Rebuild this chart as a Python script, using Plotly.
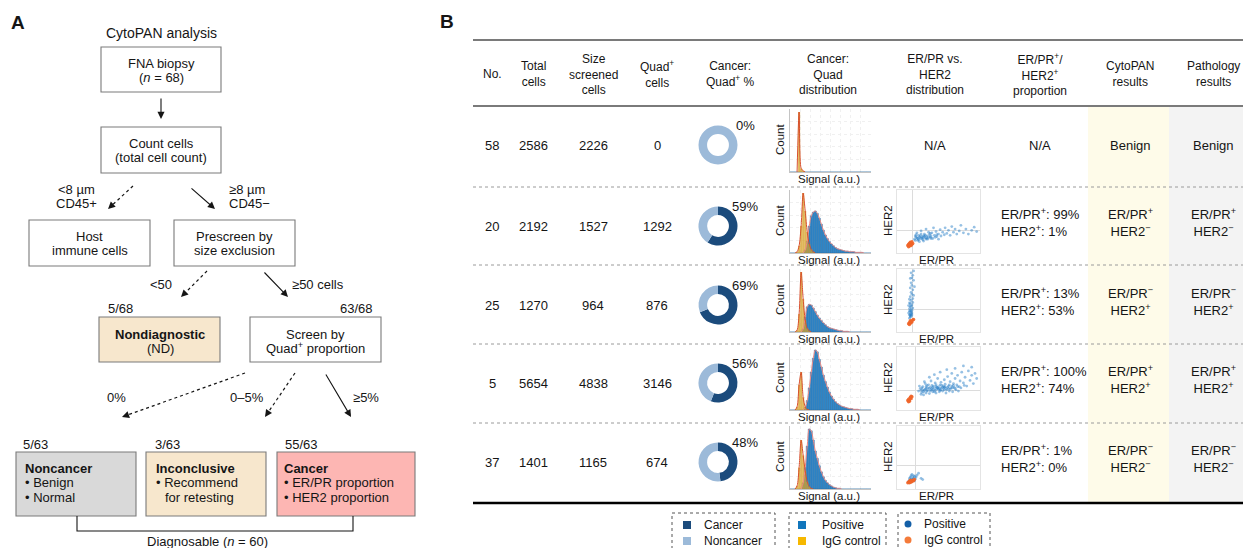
import plotly.graph_objects as go

W, H = 1243, 548
OFF = 0  # body margin is removed by the post script, so the figure fills the window exactly

# ---------------- Panel B: table values ----------------
case_no = [58, 20, 25, 5, 37]
total_cells = [2586, 2192, 1270, 5654, 1401]
size_screened_cells = [2226, 1527, 964, 4838, 1165]
quad_pos_cells = [0, 1292, 876, 3146, 674]
cancer_quad_pct = [0, 59, 69, 56, 48]
erpr_pos_pct = [None, 99, 13, 100, 1]
her2_pos_pct = [None, 1, 53, 74, 0]
cytopan_erpr = [None, "+", "−", "+", "−"]
cytopan_her2 = [None, "−", "+", "+", "−"]
pathology_erpr = [None, "+", "−", "+", "−"]
pathology_her2 = [None, "−", "+", "+", "−"]

# ---------------- Quad signal histograms (bin centres, counts) ----------------
signal_bins = [0.0125 + 0.025 * i for i in range(40)]
hist_pos = {
    58: [0, 0, 0, 0, 0, 0, 0, 0, 0, 0, 0, 0, 0, 0, 0, 0, 0, 0, 0, 0,
         0, 0, 0, 0, 0, 0, 0, 0, 0, 0, 0, 0, 0, 0, 0, 0, 0, 0, 0, 0],
    20: [0, 0, 0, 0, 0, 0, 0, 5, 20, 45, 62, 68, 70, 66, 58, 48, 38, 30, 24, 19,
         15, 12, 9, 7, 6, 5, 4, 3, 3, 2, 2, 2, 1, 1, 1, 1, 0, 0, 0, 0],
    25: [0, 0, 0, 0, 0, 0, 5, 25, 42, 46, 45, 40, 34, 28, 23, 19, 15, 12, 9, 7,
         6, 5, 4, 3, 2, 2, 1, 1, 1, 0, 0, 0, 0, 0, 0, 0, 0, 0, 0, 0],
    5: [0, 0, 0, 0, 0, 0, 0, 4, 15, 35, 60, 82, 95, 92, 80, 68, 55, 45, 36, 28,
        22, 17, 13, 10, 8, 6, 5, 4, 3, 2, 2, 1, 1, 1, 0, 0, 0, 0, 0, 0],
    37: [0, 0, 0, 0, 0, 0, 10, 35, 70, 98, 95, 80, 62, 50, 38, 28, 20, 14, 10, 7,
         5, 3, 2, 1, 1, 0, 0, 0, 0, 0, 0, 0, 0, 0, 0, 0, 0, 0, 0, 0],
}
hist_igg = {
    58: [0, 0, 0, 0, 100, 6, 2, 0, 0, 0, 0, 0, 0, 0, 0, 0, 0, 0, 0, 0,
         0, 0, 0, 0, 0, 0, 0, 0, 0, 0, 0, 0, 0, 0, 0, 0, 0, 0, 0, 0],
    20: [0, 0, 0, 2, 12, 45, 100, 70, 35, 15, 6, 2, 0, 0, 0, 0, 0, 0, 0, 0,
         0, 0, 0, 0, 0, 0, 0, 0, 0, 0, 0, 0, 0, 0, 0, 0, 0, 0, 0, 0],
    25: [0, 0, 0, 3, 30, 100, 55, 20, 6, 2, 0, 0, 0, 0, 0, 0, 0, 0, 0, 0,
         0, 0, 0, 0, 0, 0, 0, 0, 0, 0, 0, 0, 0, 0, 0, 0, 0, 0, 0, 0],
    5: [0, 0, 0, 5, 40, 60, 20, 5, 1, 0, 0, 0, 0, 0, 0, 0, 0, 0, 0, 0,
        0, 0, 0, 0, 0, 0, 0, 0, 0, 0, 0, 0, 0, 0, 0, 0, 0, 0, 0, 0],
    37: [0, 0, 0, 5, 35, 80, 55, 30, 12, 4, 1, 0, 0, 0, 0, 0, 0, 0, 0, 0,
         0, 0, 0, 0, 0, 0, 0, 0, 0, 0, 0, 0, 0, 0, 0, 0, 0, 0, 0, 0],
}

# ---------------- ER/PR vs HER2 scatter (x = ER/PR, y = HER2) ----------------
scatter_pos = {
    20: [(0.21, 0.22), (0.23, 0.25), (0.25, 0.2), (0.26, 0.28), (0.28, 0.23), (0.3, 0.26), (0.31, 0.21),
         (0.33, 0.3), (0.34, 0.24), (0.36, 0.27), (0.37, 0.22), (0.39, 0.29), (0.4, 0.25), (0.42, 0.32),
         (0.43, 0.23), (0.45, 0.28), (0.47, 0.34), (0.48, 0.26), (0.5, 0.3), (0.52, 0.37), (0.53, 0.27),
         (0.55, 0.33), (0.57, 0.29), (0.58, 0.4), (0.6, 0.31), (0.62, 0.36), (0.64, 0.28), (0.66, 0.42),
         (0.68, 0.33), (0.7, 0.38), (0.72, 0.3), (0.75, 0.35), (0.77, 0.44), (0.8, 0.32), (0.83, 0.38),
         (0.86, 0.3), (0.9, 0.36), (0.93, 0.41), (0.96, 0.34), (0.24, 0.32), (0.29, 0.35), (0.35, 0.38),
         (0.27, 0.18), (0.32, 0.19), (0.22, 0.27), (0.38, 0.33), (0.44, 0.4), (0.5, 0.22), (0.24, 0.24),
         (0.27, 0.25), (0.3, 0.23), (0.33, 0.26), (0.36, 0.24), (0.41, 0.27), (0.46, 0.25),
         (0.22, 0.2), (0.25, 0.23), (0.28, 0.27), (0.31, 0.24), (0.34, 0.28), (0.38, 0.25), (0.41, 0.23),
         (0.23, 0.29), (0.26, 0.21), (0.29, 0.3), (0.32, 0.27), (0.35, 0.22), (0.4, 0.31), (0.48, 0.29)],
    25: [(0.15, 0.22), (0.17, 0.25), (0.16, 0.28), (0.18, 0.3), (0.15, 0.33), (0.17, 0.36), (0.16, 0.4),
         (0.18, 0.43), (0.15, 0.46), (0.17, 0.5), (0.19, 0.53), (0.16, 0.56), (0.18, 0.6), (0.17, 0.63),
         (0.19, 0.67), (0.16, 0.7), (0.18, 0.74), (0.17, 0.78), (0.2, 0.82), (0.18, 0.86), (0.19, 0.9),
         (0.17, 0.94), (0.2, 0.97), (0.14, 0.3), (0.16, 0.24), (0.19, 0.38), (0.15, 0.52), (0.2, 0.58),
         (0.14, 0.42), (0.21, 0.72), (0.16, 0.85), (0.18, 0.27), (0.17, 0.32), (0.15, 0.37), (0.19, 0.47),
         (0.16, 0.26), (0.17, 0.29), (0.15, 0.27), (0.18, 0.34), (0.16, 0.33), (0.17, 0.41), (0.16, 0.45)],
    5: [(0.26, 0.3), (0.28, 0.34), (0.3, 0.28), (0.31, 0.37), (0.33, 0.31), (0.34, 0.42), (0.35, 0.27),
        (0.37, 0.35), (0.38, 0.4), (0.4, 0.3), (0.41, 0.46), (0.42, 0.34), (0.44, 0.38), (0.45, 0.29),
        (0.46, 0.43), (0.48, 0.33), (0.49, 0.5), (0.5, 0.37), (0.52, 0.31), (0.53, 0.44), (0.54, 0.39),
        (0.56, 0.34), (0.57, 0.48), (0.58, 0.41), (0.6, 0.32), (0.61, 0.53), (0.62, 0.38), (0.64, 0.45),
        (0.65, 0.35), (0.66, 0.58), (0.68, 0.42), (0.69, 0.36), (0.7, 0.5), (0.72, 0.4), (0.73, 0.55),
        (0.75, 0.37), (0.76, 0.46), (0.78, 0.6), (0.8, 0.43), (0.82, 0.52), (0.84, 0.38), (0.86, 0.62),
        (0.88, 0.47), (0.9, 0.55), (0.92, 0.42), (0.94, 0.58), (0.96, 0.5), (0.29, 0.25), (0.32, 0.24),
        (0.36, 0.3), (0.39, 0.26), (0.43, 0.32), (0.47, 0.27), (0.51, 0.29), (0.55, 0.3), (0.59, 0.27),
        (0.63, 0.3), (0.67, 0.29), (0.71, 0.32), (0.74, 0.3), (0.27, 0.38), (0.33, 0.45), (0.39, 0.52),
        (0.45, 0.56), (0.52, 0.6), (0.6, 0.64), (0.7, 0.66), (0.8, 0.7), (0.9, 0.68), (0.36, 0.39),
        (0.43, 0.36), (0.47, 0.4), (0.5, 0.33), (0.55, 0.36), (0.58, 0.37), (0.31, 0.32), (0.35, 0.34),
        (0.4, 0.36), (0.45, 0.34), (0.49, 0.35), (0.53, 0.35), (0.57, 0.32), (0.62, 0.34), (0.66, 0.38),
        (0.29, 0.31), (0.32, 0.29), (0.34, 0.33), (0.37, 0.31), (0.39, 0.34), (0.41, 0.32), (0.43, 0.29),
        (0.46, 0.31), (0.48, 0.36), (0.51, 0.34), (0.53, 0.32), (0.56, 0.38), (0.59, 0.34), (0.61, 0.36),
        (0.64, 0.33), (0.67, 0.35), (0.7, 0.34), (0.73, 0.37), (0.77, 0.35), (0.81, 0.39), (0.3, 0.35),
        (0.35, 0.37), (0.42, 0.39), (0.47, 0.37), (0.52, 0.4), (0.57, 0.36), (0.63, 0.4), (0.68, 0.39)],
    37: [(0.14, 0.12), (0.15, 0.14), (0.16, 0.13), (0.17, 0.16), (0.18, 0.15), (0.19, 0.18), (0.2, 0.17),
         (0.21, 0.2), (0.16, 0.19), (0.18, 0.12), (0.22, 0.16), (0.15, 0.17), (0.19, 0.14), (0.2, 0.21),
         (0.23, 0.19), (0.17, 0.21), (0.24, 0.22), (0.29, 0.17), (0.31, 0.15), (0.26, 0.25), (0.21, 0.13),
         (0.18, 0.23)],
}
scatter_igg = {
    20: [(0.13, 0.12), (0.14, 0.14), (0.15, 0.11), (0.15, 0.15), (0.16, 0.13), (0.17, 0.16), (0.17, 0.12),
         (0.18, 0.14), (0.14, 0.1), (0.19, 0.15), (0.16, 0.17), (0.18, 0.18)],
    25: [(0.14, 0.13), (0.15, 0.15), (0.16, 0.14), (0.17, 0.17), (0.18, 0.16), (0.19, 0.19), (0.15, 0.12),
         (0.17, 0.15), (0.2, 0.2), (0.16, 0.18)],
    5: [(0.13, 0.15), (0.14, 0.17), (0.15, 0.16), (0.16, 0.19), (0.17, 0.18), (0.15, 0.14), (0.16, 0.2),
        (0.18, 0.21), (0.14, 0.13), (0.17, 0.22)],
    37: [(0.13, 0.1), (0.14, 0.11), (0.15, 0.12), (0.16, 0.11), (0.17, 0.13), (0.18, 0.12), (0.19, 0.14),
         (0.2, 0.13), (0.15, 0.1), (0.17, 0.11), (0.21, 0.15), (0.16, 0.14)],
}
erpr_threshold = {20: 0.19, 25: 0.19, 5: 0.22, 37: 0.22}
her2_threshold = {20: 0.35, 25: 0.36, 5: 0.31, 37: 0.37}

# ---------------- Panel A: flowchart counts ----------------
fna_n = 68
nd_count, screened_count = "5/68", "63/68"
noncancer_count, inconclusive_count, cancer_count = "5/63", "3/63", "55/63"
diagnosable_n = 60

# ---------------- colours ----------------
C_CANCER = "#1B4B7C"
C_NONCANCER = "#9CBAD9"
C_POS_BAR = "#3189CB"
C_IGG_BAR = "rgba(214,160,40,0.78)"
C_POS_PT = "rgba(25,118,195,0.45)"
C_IGG_PT = "rgba(240,100,40,0.9)"
FONT = "Liberation Sans, Arial, Helvetica, sans-serif"
INK = "#151515"

FW, FH = W - OFF, H - OFF


def px(x):
    return (x - OFF) / FW


def py(y):
    return 1 - (y - OFF) / FH


annotations = []
shapes = []


def txt(x, y, s, size=13, xanchor="center", align="center", angle=0, color=INK):
    annotations.append(dict(xref="paper", yref="paper", x=px(x), y=py(y), text=s, showarrow=False,
                            xanchor=xanchor, yanchor="middle", align=align, textangle=angle,
                            font=dict(size=size, color=color, family=FONT)))


def rect(x0, y0, x1, y1, fill="white", line="#7a7a7a", width=1.1, layer="above", dash=None):
    shapes.append(dict(type="rect", xref="paper", yref="paper", x0=px(x0), x1=px(x1), y0=py(y1), y1=py(y0),
                       fillcolor=fill, line=dict(color=line, width=width, dash=dash), layer=layer))


def hline(x0, x1, y, color, width, dash=None):
    shapes.append(dict(type="line", xref="paper", yref="paper", x0=px(x0), x1=px(x1), y0=py(y), y1=py(y),
                       line=dict(color=color, width=width, dash=dash)))


def arrow(x0, y0, x1, y1, dotted=False):
    if dotted:
        dx, dy = x1 - x0, y1 - y0
        L = (dx * dx + dy * dy) ** 0.5
        hx, hy = x1 - dx * 7 / L, y1 - dy * 7 / L
        shapes.append(dict(type="line", xref="paper", yref="paper", x0=px(x0), y0=py(y0), x1=px(hx), y1=py(hy),
                           line=dict(color=INK, width=1.2, dash="dot")))
        sx, sy = hx, hy
    else:
        sx, sy = x0, y0
    annotations.append(dict(xref="paper", yref="paper", x=px(x1), y=py(y1), ax=sx - x1, ay=sy - y1,
                            axref="pixel", ayref="pixel", text="", showarrow=True, arrowhead=2,
                            arrowsize=1.3, arrowwidth=1.1, arrowcolor=INK, standoff=0, startstandoff=0))


# =============== PANEL A ===============
txt(18, 22, "<b>A</b>", size=19)
txt(161, 33, "CytoPAN analysis", size=14)

rect(101, 47, 221, 92)
txt(161, 63, "FNA biopsy")
txt(161, 77, f"(<i>n</i> = {fna_n})")
arrow(161, 97, 161, 119)

rect(101, 127, 221, 173)
txt(161, 143, "Count cells")
txt(161, 157, "(total cell count)")

arrow(133, 186, 108, 209, dotted=True)
txt(76, 189, "<8 µm")
txt(76, 203, "CD45+")
arrow(190, 187, 215, 209)
txt(227, 189, "≥8 µm", xanchor="left")
txt(227, 203, "CD45−", xanchor="left")

rect(29, 220, 150, 266)
txt(89.5, 236, "Host")
txt(89.5, 250, "immune cells")
rect(174, 220, 295, 266)
txt(234.5, 236, "Prescreen by")
txt(234.5, 250, "size exclusion")

arrow(207, 271, 181, 297, dotted=True)
txt(161, 284, "<50")
arrow(263, 271, 288, 297)
txt(290, 284, "≥50 cells", xanchor="left")

txt(106, 308, nd_count, xanchor="left")
txt(375, 308, screened_count, xanchor="right")
rect(99, 317, 220, 362, fill="#F7E7CD")
txt(160, 334, "<b>Nondiagnostic</b>")
txt(160, 348, "(ND)")
rect(250, 317, 381, 362)
txt(315.5, 334, "Screen by")
txt(315.5, 348, "Quad<sup>+</sup> proportion")

arrow(245, 373, 122, 417, dotted=True)
arrow(295, 373, 265, 417, dotted=True)
arrow(325, 373, 351, 417)
txt(117, 397, "0%")
txt(247, 397, "0–5%")
txt(366, 397, "≥5%")

txt(21, 444, noncancer_count, xanchor="left")
txt(153, 444, inconclusive_count, xanchor="left")
txt(283, 444, cancer_count, xanchor="left")

rect(16, 452, 136, 516, fill="#D9D9D9")
rect(146, 452, 266, 516, fill="#F7E7CD")
rect(277, 452, 415, 516, fill="#FDB6B3")
txt(23, 468, "<b>Noncancer</b>", xanchor="left")
txt(23, 482, "• Benign", xanchor="left")
txt(23, 497, "• Normal", xanchor="left")
txt(154, 468, "<b>Inconclusive</b>", xanchor="left")
txt(154, 482, "• Recommend", xanchor="left")
txt(163, 497, "for retesting", xanchor="left")
txt(282, 468, "<b>Cancer</b>", xanchor="left")
txt(282, 482, "• ER/PR proportion", xanchor="left")
txt(282, 497, "• HER2 proportion", xanchor="left")

shapes.append(dict(type="path", xref="paper", yref="paper",
                   path=f"M {px(77)},{py(516)} L {px(77)},{py(531)} L {px(353)},{py(531)} L {px(353)},{py(516)}",
                   line=dict(color=INK, width=1.1)))
txt(207, 541, f"Diagnosable (<i>n</i> = {diagnosable_n})")

# =============== PANEL B ===============
txt(447, 21, "<b>B</b>", size=19)

TABLE_X0 = 473
rect(1088, 107, 1169, 502, fill="#FEFBE9", line="rgba(0,0,0,0)", width=0, layer="below")
rect(1169, 107, 1245, 502, fill="#F3F3F3", line="rgba(0,0,0,0)", width=0, layer="below")
hline(TABLE_X0, W + 2, 40, "#7a7a7a", 2)
hline(TABLE_X0, W + 2, 106, "#7a7a7a", 2)
for ysep in [187, 265, 344, 423]:
    hline(TABLE_X0, W + 2, ysep, "#9a9a9a", 1, dash="dot")
hline(TABLE_X0, W + 2, 503, "#000000", 2.6)

HS = 12
headers = [
    (492, "No."), (533, "Total<br>cells"), (593, "Size<br>screened<br>cells"),
    (657, "Quad<sup>+</sup><br>cells"), (730, "Cancer:<br>Quad<sup>+</sup> %"),
    (828, "Cancer:<br>Quad<br>distribution"), (935, "ER/PR vs.<br>HER2<br>distribution"),
    (1040, "ER/PR<sup>+</sup>/<br>HER2<sup>+</sup><br>proportion"), (1130, "CytoPAN<br>results"),
    (1213, "Pathology<br>results"),
]
for hx, hs in headers:
    txt(hx, 74, hs, size=HS)

row_center = [145, 226, 305, 383, 462]
traces = []
layout_axes = {}
LBL = 11.5

for i, no in enumerate(case_no):
    c = row_center[i]
    txt(492, c, str(no))
    txt(533, c, str(total_cells[i]))
    txt(593, c, str(size_screened_cells[i]))
    txt(657, c, str(quad_pos_cells[i]))
    txt(745, c - 20, f"{cancer_quad_pct[i]}%")

    # donut
    traces.append(go.Pie(values=[cancer_quad_pct[i], 100 - cancer_quad_pct[i]],
                         labels=["Cancer", "Noncancer"], hole=0.56, sort=False, direction="clockwise",
                         marker=dict(colors=[C_CANCER, C_NONCANCER], line=dict(width=0)),
                         textinfo="none", hoverinfo="skip", showlegend=False,
                         domain=dict(x=[px(698.5), px(737.5)], y=[py(c + 19.5), py(c - 19.5)])))

    # histogram subplot
    k = 2 + i
    pos = hist_pos[no]
    igg = hist_igg[no]
    ymax = max(max(pos), max(igg)) * 1.05
    traces.append(go.Bar(x=signal_bins, y=pos, width=0.025, xaxis=f"x{k}", yaxis=f"y{k}",
                         marker=dict(color=C_POS_BAR, line=dict(color="#1d5f98", width=0.4)),
                         hoverinfo="skip", showlegend=False))
    traces.append(go.Bar(x=signal_bins, y=igg, width=0.025, xaxis=f"x{k}", yaxis=f"y{k}",
                         marker=dict(color=C_IGG_BAR, line=dict(width=0)),
                         hoverinfo="skip", showlegend=False))
    for series, col, lw in [(pos, "#F08A84", 1.0), (igg, "#D8502E", 1.0)]:
        nz = [j for j, v in enumerate(series) if v > 0]
        if nz:
            a, b = max(nz[0] - 1, 0), min(nz[-1] + 1, len(series) - 1)
            traces.append(go.Scatter(x=signal_bins[a:b + 1], y=series[a:b + 1], mode="lines",
                                     line=dict(color=col, width=lw, shape="spline", smoothing=0.8),
                                     xaxis=f"x{k}", yaxis=f"y{k}", hoverinfo="skip", showlegend=False))
    layout_axes[f"xaxis{k}"] = dict(domain=[px(790), px(871)], anchor=f"y{k}", range=[0, 1],
                                    showticklabels=False, ticks="", showgrid=True, gridcolor="#f0f0f0",
                                    griddash="dot", dtick=0.125, zeroline=False, showline=True,
                                    linecolor="#c4c4c4", linewidth=1, fixedrange=True)
    layout_axes[f"yaxis{k}"] = dict(domain=[py(c + 27), py(c - 36)], anchor=f"x{k}", range=[0, ymax],
                                    showticklabels=False, ticks="", showgrid=True, gridcolor="#f0f0f0",
                                    griddash="dot", dtick=ymax / 5, zeroline=False, showline=True,
                                    linecolor="#c4c4c4", linewidth=1, fixedrange=True)
    txt(780, c - 5, "Count", size=LBL, angle=-90)
    txt(829, c + 34, "Signal (a.u.)", size=LBL)

    if erpr_pos_pct[i] is None:
        txt(935, c, "N/A")
        txt(1040, c, "N/A")
        txt(1130, c, "Benign")
        txt(1213, c, "Benign")
        continue

    # scatter subplot
    k2 = 6 + i
    sp = scatter_pos[no]
    sg = scatter_igg[no]
    traces.append(go.Scatter(x=[p[0] for p in sp], y=[p[1] for p in sp], mode="markers",
                             marker=dict(color=C_POS_PT, size=2.8, line=dict(width=0)),
                             xaxis=f"x{k2}", yaxis=f"y{k2}", hoverinfo="skip", showlegend=False))
    traces.append(go.Scatter(x=[p[0] for p in sg], y=[p[1] for p in sg], mode="markers",
                             marker=dict(color=C_IGG_PT, size=3.4, line=dict(width=0)),
                             xaxis=f"x{k2}", yaxis=f"y{k2}", hoverinfo="skip", showlegend=False))
    layout_axes[f"xaxis{k2}"] = dict(domain=[px(897), px(980)], anchor=f"y{k2}", range=[0, 1],
                                     showticklabels=False, ticks="", tickvals=[erpr_threshold[no]],
                                     showgrid=True, gridcolor="#dcdcdc", zeroline=False, showline=True,
                                     linecolor="#e4e4e4", mirror=True, fixedrange=True)
    layout_axes[f"yaxis{k2}"] = dict(domain=[py(c + 27), py(c - 36)], anchor=f"x{k2}", range=[0, 1],
                                     showticklabels=False, ticks="", tickvals=[her2_threshold[no]],
                                     showgrid=True, gridcolor="#dcdcdc", zeroline=False, showline=True,
                                     linecolor="#e4e4e4", mirror=True, fixedrange=True)
    txt(888, c - 5, "HER2", size=LBL, angle=-90)
    txt(937, c + 34, "ER/PR", size=LBL)

    txt(999, c - 4, f"ER/PR<sup>+</sup>: {erpr_pos_pct[i]}%<br>HER2<sup>+</sup>: {her2_pos_pct[i]}%",
        xanchor="left", align="left")
    txt(1130, c - 4, f"ER/PR<sup>{cytopan_erpr[i]}</sup><br>HER2<sup>{cytopan_her2[i]}</sup>")
    txt(1213, c - 4, f"ER/PR<sup>{pathology_erpr[i]}</sup><br>HER2<sup>{pathology_her2[i]}</sup>")

# ---------------- legend boxes ----------------
LS = 12
rect(672, 513, 775, 556, fill="rgba(0,0,0,0)", line="#555", width=1, dash="dot")
rect(789, 513, 886, 556, fill="rgba(0,0,0,0)", line="#555", width=1, dash="dot")
rect(898, 513, 990, 556, fill="rgba(0,0,0,0)", line="#555", width=1, dash="dot")
legend_items = [
    (687, 525, "rect", C_CANCER, 702, "Cancer"),
    (687, 541, "rect", C_NONCANCER, 702, "Noncancer"),
    (802, 525, "rect", "#1176BC", 820, "Positive"),
    (802, 541, "rect", "#F6B800", 820, "IgG control"),
    (908, 524, "circle", "#135FA7", 922, "Positive"),
    (908, 540, "circle", "#F47B3A", 922, "IgG control"),
]
for lx, ly, kind, col, tx, label in legend_items:
    s = 4 if kind == "rect" else 3.5
    shapes.append(dict(type=kind, xref="paper", yref="paper", x0=px(lx - s), x1=px(lx + s),
                       y0=py(ly + s), y1=py(ly - s), fillcolor=col, line=dict(width=0)))
    txt(tx, ly, label, size=LS, xanchor="left")

fig = go.Figure(data=traces)
fig.update_layout(
    width=FW, height=FH, margin=dict(l=0, r=0, t=0, b=0),
    paper_bgcolor="white", plot_bgcolor="rgba(0,0,0,0)",
    barmode="overlay", showlegend=False,
    font=dict(family=FONT, color=INK),
    annotations=annotations, shapes=shapes,
    **layout_axes,
)
fig.write_html(
    "out.html",
    config={"displayModeBar": False, "staticPlot": True},
    post_script="document.body.style.margin='0';document.documentElement.style.overflow='hidden';",
)
